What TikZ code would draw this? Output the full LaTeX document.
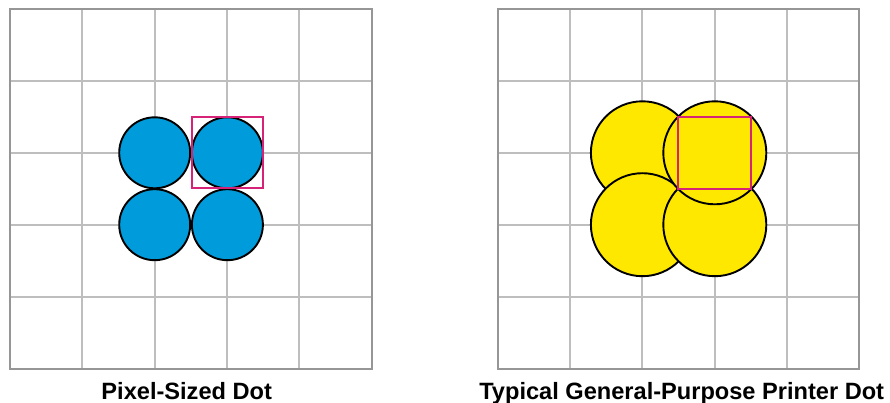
\documentclass[tikz,border=0pt]{standalone}
\usepackage{xcolor}
\usepackage{fontspec}
\setmainfont{Liberation Sans}
\usepackage{tikz}
\usetikzlibrary{positioning}

\definecolor{dotblue}{RGB}{0,155,218}
\definecolor{dotyellow}{RGB}{255,232,0}
\definecolor{pixmagenta}{RGB}{214,35,120}
\definecolor{gridin}{RGB}{190,190,190}
\definecolor{gridout}{RGB}{150,150,150}

\begin{document}
\begin{tikzpicture}[x=1pt,y=-1pt,
  gridline/.style={draw=gridin,line width=2pt},
  gridframe/.style={draw=gridout,line width=2pt},
  bluedot/.style={circle,draw=black,line width=1.9pt,fill=dotblue,
      inner sep=0pt,minimum size=71pt},
  yellowdot/.style={circle,draw=black,line width=1.9pt,fill=dotyellow,
      inner sep=0pt,minimum size=103pt},
  pixbox/.style={rectangle,draw=pixmagenta,line width=2pt,inner sep=0pt},
  caption/.style={font=\fontsize{23.6}{28}\selectfont\bfseries,
      inner sep=0pt,anchor=base}]
\useasboundingbox (0,0) rectangle (890,403);

% grids
\foreach \ox in {10,497.7} {
  \foreach \i in {1,...,4} {
    \draw[gridline] (\ox+\i*72.35,9) -- (\ox+\i*72.35,368.5);
    \draw[gridline] (\ox,9+\i*71.9) -- (\ox+361.75,9+\i*71.9);
  }
  \draw[gridframe] (\ox,9) rectangle (\ox+361.75,368.5);
}

% pixel sized dots
\node[bluedot] (btl) at (154.7,152.8) {};
\node[bluedot] (btr) at (227.4,152.8) {};
\node[bluedot] (bbl) at (154.7,224.7) {};
\node[bluedot] (bbr) at (227.4,224.7) {};
\node[pixbox,minimum width=71pt,minimum height=71pt] (pixl) at (btr) {};

% printer dots
\node[yellowdot] (ytl) at (642.4,152.8) {};
\node[yellowdot] (ybl) at (642.4,224.7) {};
\node[yellowdot] (ybr) at (714.8,224.7) {};
\node[yellowdot] (ytr) at (714.8,152.8) {};
\node[pixbox,minimum width=73pt,minimum height=71.6pt] (pixr) at (ytr) {};

% captions
\node[caption] (capl) at (186.7,399.3) {Pixel-Sized Dot};
\node[caption] (capr) at (681.7,399.3) {Typical General-Purpose Printer Dot};
\end{tikzpicture}
\end{document}
